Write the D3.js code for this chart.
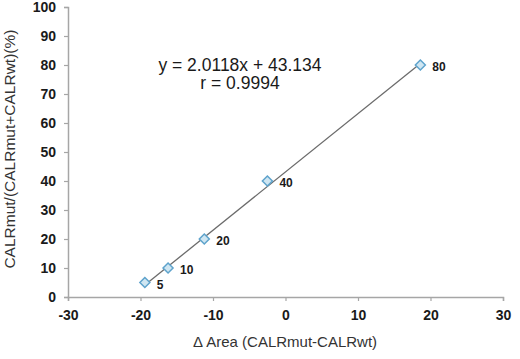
<!DOCTYPE html>
<html>
<head>
<meta charset="utf-8">
<script src="https://cdn.jsdelivr.net/npm/d3@7"></script>
<style>
    body { margin: 0; background: #fff; }
    text { font-family: "Liberation Sans", Arial, sans-serif; }
</style>
</head>
<body>
<div id="chart"></div>
<script>
// data
var deltaArea = [-19.4, -16.2, -11.2, -2.5, 18.6];
var mutPercent = [5, 10, 20, 40, 80];
var pointLabels = ["5", "10", "20", "40", "80"];
var xTicks = [-30, -20, -10, 0, 10, 20, 30];
var yTicks = [0, 10, 20, 30, 40, 50, 60, 70, 80, 90, 100];
var slope = 2.0118;
var intercept = 43.134;

var w = 520, h = 359;

var svg = d3.select("#chart")
    .append("svg")
    .attr("width", w)
    .attr("height", h);

var x = d3.scaleLinear().domain([-30, 30]).range([68, 503]);
var y = d3.scaleLinear().domain([0, 100]).range([297, 7]);

var axisColor = "#a6a6a6";

// y axis
var yAxis = svg.append("g")
    .attr("transform", `translate(${x(-30)},0)`)
    .call(d3.axisLeft(y).tickValues(yTicks).tickFormat((d) => String(d)).tickSize(4).tickPadding(8));

// x axis (plain hyphen minus like the original)
var xAxis = svg.append("g")
    .attr("transform", `translate(0,${y(0)})`)
    .call(d3.axisBottom(x).tickValues(xTicks).tickFormat((d) => String(d)).tickSize(4).tickPadding(9));

[xAxis, yAxis].forEach(function (g) {
    g.select(".domain").attr("stroke", axisColor).attr("stroke-width", 1.5);
    g.selectAll(".tick line").attr("stroke", axisColor).attr("stroke-width", 1.2);
    g.selectAll(".tick text")
        .attr("fill", "#1a1a1a")
        .attr("font-size", "14px")
        .attr("font-weight", "bold")
        .style("font-family", "'Liberation Sans', Arial, sans-serif");
});

// trend line over the data range
var xMin = d3.min(deltaArea), xMax = d3.max(deltaArea);
svg.append("line")
    .attr("x1", x(xMin))
    .attr("y1", y(slope * xMin + intercept))
    .attr("x2", x(xMax))
    .attr("y2", y(slope * xMax + intercept))
    .attr("stroke", "#6b6b6b")
    .attr("stroke-width", 1.3);

var points = deltaArea.map((d, i) => ({ x: d, y: mutPercent[i], label: pointLabels[i] }));

// diamond markers
svg.selectAll("path.marker")
    .data(points)
    .enter()
    .append("path")
    .attr("class", "marker")
    .attr("d", "M0,-5L5,0L0,5L-5,0Z")
    .attr("transform", (d) => `translate(${x(d.x)},${y(d.y)})`)
    .attr("fill", "#cfe6f2")
    .attr("stroke", "#5ea3cc")
    .attr("stroke-width", 1.5);

svg.selectAll("text.plabel")
    .data(points)
    .enter()
    .append("text")
    .attr("class", "plabel")
    .attr("x", (d) => x(d.x) + 12)
    .attr("y", (d) => y(d.y) + 6)
    .attr("font-size", "12px")
    .attr("font-weight", "bold")
    .attr("fill", "#1a1a1a")
    .text((d) => d.label);

// equation text
svg.append("text")
    .attr("x", 240)
    .attr("y", 71)
    .attr("text-anchor", "middle")
    .attr("font-size", "17.5px")
    .attr("fill", "#1a1a1a")
    .text(`y = ${slope}x + ${intercept}`);

svg.append("text")
    .attr("x", 240)
    .attr("y", 89)
    .attr("text-anchor", "middle")
    .attr("font-size", "17.5px")
    .attr("fill", "#1a1a1a")
    .text("r = 0.9994");

// axis titles
svg.append("text")
    .attr("x", 285)
    .attr("y", 347)
    .attr("text-anchor", "middle")
    .attr("font-size", "15px")
    .attr("fill", "#333")
    .text("\u0394 Area (CALRmut-CALRwt)");

svg.append("text")
    .attr("transform", `translate(15,${y(51)}) rotate(-90)`)
    .attr("text-anchor", "middle")
    .attr("font-size", "15.5px")
    .attr("fill", "#333")
    .text("CALRmut/(CALRmut+CALRwt)(%)");
</script>
</body>
</html>
